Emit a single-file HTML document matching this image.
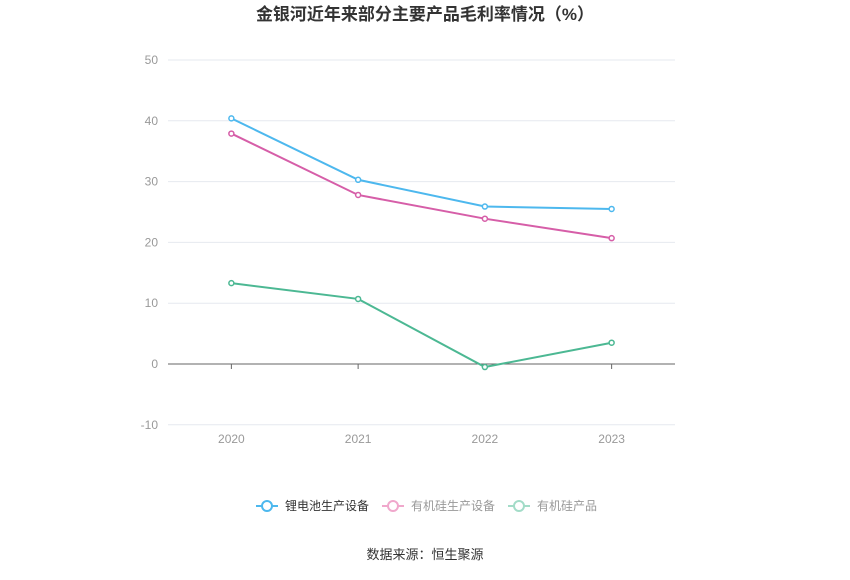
<!DOCTYPE html>
<html><head><meta charset="utf-8"><style>
body{margin:0;background:#fff;}
svg text{font-family:"Liberation Sans","Noto Sans CJK SC",sans-serif;}
</style></head><body>
<svg id="chart" width="850" height="575" xmlns="http://www.w3.org/2000/svg">
<text x="425" y="20" text-anchor="middle" font-size="17" font-weight="bold" fill="#333">金银河近年来部分主要产品毛利率情况（%）</text>
<g id="grid"></g><g id="series"></g>
<g>
<g><line x1="256" y1="506" x2="278" y2="506" stroke="#4db8ee" stroke-width="2"/><circle cx="267" cy="506" r="5" fill="#fff" stroke="#4db8ee" stroke-width="2"/><text x="285" y="510" font-size="12" fill="#333">锂电池生产设备</text></g>
<g><line x1="382" y1="506" x2="404" y2="506" stroke="#f0a8cc" stroke-width="2"/><circle cx="393" cy="506" r="5" fill="#fff" stroke="#f0a8cc" stroke-width="2"/><text x="411" y="510" font-size="12" fill="#999">有机硅生产设备</text></g>
<g><line x1="508" y1="506" x2="530" y2="506" stroke="#a3dcc8" stroke-width="2"/><circle cx="519" cy="506" r="5" fill="#fff" stroke="#a3dcc8" stroke-width="2"/><text x="537" y="510" font-size="12" fill="#999">有机硅产品</text></g>
</g>
<text x="425" y="559" text-anchor="middle" font-size="13" fill="#333">数据来源：恒生聚源</text>
</svg>
<script>
const categories=["2020","2021","2022","2023"];
const yTicks=[-10,0,10,20,30,40,50];
const lithium=[40.4,30.3,25.9,25.5];
const siliconeEquip=[37.9,27.8,23.9,20.7];
const siliconeProd=[13.3,10.7,-0.5,3.5];
const NS="http://www.w3.org/2000/svg";
const left=168,right=675,bandW=(right-left)/categories.length;
function x(i){return left+bandW*(i+0.5);}
function y(v){return 364-v*6.08;}
function mk(t,a,p){const e=document.createElementNS(NS,t);for(const k in a)e.setAttribute(k,a[k]);p.appendChild(e);return e;}
const grid=document.getElementById('grid');
yTicks.forEach(v=>{
 const l=mk('line',{x1:left,x2:right,y1:y(v),y2:y(v),stroke:v===0?'#666':'#e6e9ef','stroke-width':1},grid);
 
 
 const t=mk('text',{x:158,y:y(v)+4,'text-anchor':'end','font-size':12,fill:'#999'},grid);
 t.textContent=v;
 
 
});
categories.forEach((c,i)=>{
 const tk=mk('line',{x1:x(i),x2:x(i),y1:364,y2:369,stroke:'#666'},grid);
 
 
 const t=mk('text',{x:x(i),y:443,'text-anchor':'middle','font-size':12,fill:'#999'},grid);
 t.textContent=c;
 
 
});
const ser=document.getElementById('series');
[[lithium,'#4db8ee','lithium-line'],[siliconeEquip,'#d65ea8','silicone-equipment-line'],[siliconeProd,'#4cb893','silicone-products-line']].forEach(([d,c,n])=>{
 const p=mk('polyline',{points:d.map((v,i)=>x(i)+','+y(v)).join(' '),fill:'none',stroke:c,'stroke-width':2},ser);
 
 
 d.forEach((v,i)=>{
  const pt=mk('circle',{cx:x(i),cy:y(v),r:2.5,fill:'#fff',stroke:c,'stroke-width':1.5},ser);
  
  
 });
});
</script>
</body></html>
